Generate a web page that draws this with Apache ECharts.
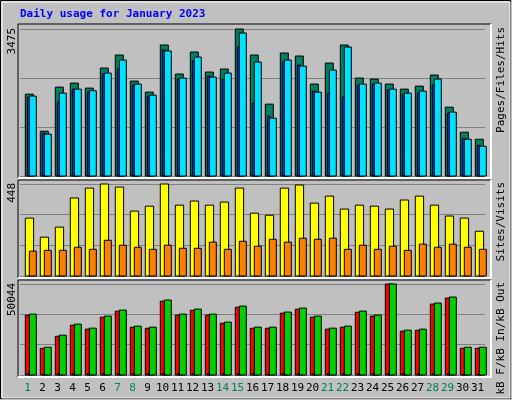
<!DOCTYPE html>
<html>
<head>
<meta charset="utf-8">
<script src="https://cdn.jsdelivr.net/npm/echarts@6/dist/echarts.min.js"></script>
<style>html,body{margin:0;padding:0;background:#c0c0c0}#c{width:512px;height:400px}</style>
</head>
<body>
<div id="c"></div>
<script>
var days = ["1","2","3","4","5","6","7","8","9","10","11","12","13","14","15","16","17","18","19","20","21","22","23","24","25","26","27","28","29","30","31"];
var weekend = ["1","7","8","14","15","21","22","28","29"];
var hits  = [1935,1059,2101,2196,2078,2552,2860,2244,1983,3097,2410,2931,2457,2528,3475,2860,1699,2907,2836,2173,2670,3097,2315,2291,2173,2054,2125,2386,1627,1035,869];
var files = [1888,988,1959,2054,2015,2433,2741,2173,1912,2955,2315,2812,2338,2433,3381,2694,1367,2741,2599,1983,2504,3049,2173,2196,2054,1959,2007,2291,1509,869,703];
var pages = [1864,1011,1746,2054,1983,2410,2528,2149,1888,2978,2291,2718,2362,2291,3049,1722,1414,2694,2623,2007,1959,1864,2149,2173,2030,1935,1959,2149,1485,893,727];
var visits = [282,189,238,380,428,448,433,316,340,448,345,365,345,360,428,306,296,428,443,355,389,326,345,340,326,370,389,345,292,282,218];
var sites  = [121,125,125,140,130,174,150,140,130,150,135,135,165,130,169,145,179,165,184,179,184,130,150,130,145,125,155,140,155,140,130];
var kbOut = [33488,15272,21896,27968,25760,32384,35696,26864,26312,41216,33488,36248,33488,29072,37904,26312,26312,34592,36800,32384,25760,26864,35144,32936,50044,24656,25208,39560,42872,15272,15272];
var kbF   = [32900,14700,21300,27400,25200,31800,35100,26300,25700,40600,32900,35600,32900,28500,37300,25700,25700,34000,36200,31800,25200,26300,34500,32400,50044,24100,24600,39000,42300,14700,14700];
var kbIn  = [900,300,900,900,900,900,900,900,900,900,900,900,900,900,900,900,300,900,900,900,900,900,900,900,900,900,900,900,900,300,300];

var chart = echarts.init(document.getElementById('c'));

function barSeries(grid, data, x0, x1, color, z) {
  return {
    type: 'custom', xAxisIndex: grid, yAxisIndex: grid, z: z,
    data: data.map(function (v, i) { return [i, v]; }),
    renderItem: function (params, api) {
      var top = api.coord([api.value(0), api.value(1)]);
      var base = api.coord([api.value(0), 0]);
      var cx = top[0] - 2.2;
      return {
        type: 'rect',
        shape: { x: cx + x0, y: top[1], width: x1 - x0, height: base[1] - top[1] },
        style: { fill: color, stroke: '#000', lineWidth: 1 }
      };
    }
  };
}

var grids = [
  { left: 20, width: 465, top: 29, height: 147 },
  { left: 20, width: 465, top: 184, height: 92 },
  { left: 20, width: 465, top: 284, height: 91 }
];
var maxes = [3475, 448, 50044];
var mono = 'DejaVu Sans Mono';

var xAxes = grids.map(function (g, i) {
  return {
    type: 'category', gridIndex: i, data: days,
    axisLine: { show: false }, axisTick: { show: false },
    axisLabel: i < 2 ? { show: false } : {
      interval: 0, margin: 8, fontFamily: mono, fontSize: 11,
      formatter: function (v) { return weekend.indexOf(v) >= 0 ? '{w|' + v + '}' : v; },
      color: '#000', rich: { w: { color: '#00805c', fontFamily: mono, fontSize: 11 } }
    }
  };
});
var yAxes = grids.map(function (g, i) {
  return {
    type: 'value', gridIndex: i, min: 0, max: maxes[i], interval: maxes[i] / 3,
    axisLabel: { show: false }, axisLine: { show: false }, axisTick: { show: false },
    splitLine: { lineStyle: { color: '#808080', width: 1 } }
  };
});

function frame(y0, y1) {
  return [
    { type: 'polyline', shape: { points: [[18, y1], [18, y0], [491, y0]] }, style: { stroke: '#000', fill: null, lineWidth: 1 }, z: -1 },
    { type: 'polyline', shape: { points: [[491, y0], [491, y1], [18, y1]] }, style: { stroke: '#fff', fill: null, lineWidth: 2 }, z: -1 }
  ];
}
function rs(c) { return { color: c, fontFamily: mono, fontSize: 11 }; }
var rich = {
  p: rs('#00e0ff'), f: rs('#0080ff'), h: rs('#008040'),
  s: rs('#ff8000'), v: rs('#ffff00'),
  r: rs('#ff0000'), b: rs('#0080ff'), g: rs('#00c000'), k: rs('#000')
};
function vtext(x, y, parts) {
  return {
    type: 'text', x: x, y: y, rotation: Math.PI / 2,
    style: { text: parts, rich: rich, font: '11px DejaVu Sans Mono', align: 'right', verticalAlign: 'middle' }
  };
}
function ylab(y, t) {
  return { type: 'text', x: 7, y: y, rotation: Math.PI / 2, style: { text: t, fill: '#000', font: '11px DejaVu Sans Mono', align: 'right', verticalAlign: 'top' } };
}

var graphic = [
  { type: 'rect', shape: { x: 0.5, y: 0.5, width: 510, height: 398 }, style: { fill: null, stroke: '#000', lineWidth: 1 }, z: -2 },
  { type: 'rect', shape: { x: 2, y: 2, width: 508, height: 396 }, style: { fill: null, stroke: '#fff', lineWidth: 1 }, z: -2 },
  { type: 'text', x: 20, y: 9, style: { text: 'Daily usage for January 2023', fill: '#0000ff', font: 'bold 11px DejaVu Sans Mono' } },
  ylab(28, '3475'), ylab(183, '448'), ylab(283, '50044'),
  vtext(501, 27, '{p|Pages}{k|/}{f|Files}{k|/}{h|Hits}'),
  vtext(501, 182, '{s|Sites}{k|/}{v|Visits}'),
  vtext(501, 282, '{r|kB F}{k|/}{b|kB In}{k|/}{g|kB Out}')
].concat(frame(24, 178), frame(180, 278), frame(280, 377));

chart.setOption({
  backgroundColor: '#c0c0c0',
  animation: false,
  grid: grids,
  xAxis: xAxes,
  yAxis: yAxes,
  graphic: graphic,
  series: [
    barSeries(0, hits, 0, 8, '#008060', 3),
    barSeries(0, pages, 2, 5, '#0040ff', 4),
    barSeries(0, files, 4, 11, '#00e0ff', 5),
    barSeries(1, visits, 0, 8.3, '#ffff00', 3),
    barSeries(1, sites, 4, 11, '#ff8000', 4),
    barSeries(2, kbF, 0, 8, '#ff0000', 3),
    barSeries(2, kbOut, 4, 11, '#00d000', 4),
    barSeries(2, kbIn, 2.5, 4, '#0080ff', 5)
  ]
});
</script>
</body>
</html>
